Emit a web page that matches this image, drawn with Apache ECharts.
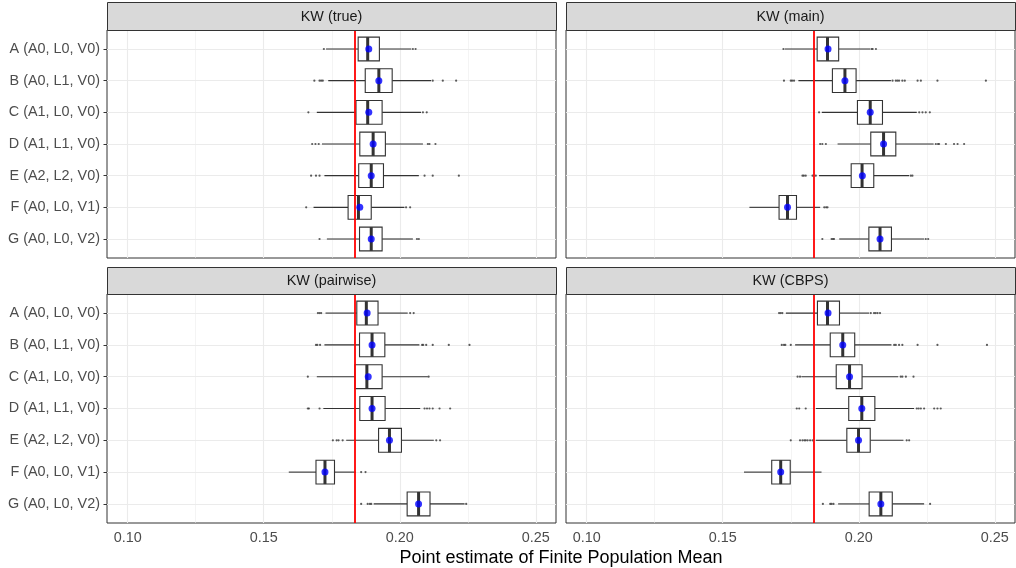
<!DOCTYPE html>
<html><head><meta charset="utf-8">
<script src="https://cdn.jsdelivr.net/npm/echarts@6/dist/echarts.min.js"></script>
<style>html,body{margin:0;padding:0;background:#fff}#c{width:1016px;height:568px}</style>
</head><body><div id="c"></div>
<script>
const categories = ['A (A0, L0, V0)', 'B (A0, L1, V0)', 'C (A1, L0, V0)', 'D (A1, L1, V0)', 'E (A2, L2, V0)', 'F (A0, L0, V1)', 'G (A0, L0, V2)'];
const panelTitles = ['KW (true)', 'KW (main)', 'KW (pairwise)', 'KW (CBPS)'];
const xTicks = [0.10, 0.15, 0.20, 0.25];
const xMinorTicks = [0.125, 0.175, 0.225];
const truthValue = 0.1836;
const xTitle = 'Point estimate of Finite Population Mean';

// [lower whisker, Q1, median, Q3, upper whisker]
const trueBox = [
 [0.1729, 0.1847, 0.1882, 0.1925, 0.2042],
 [0.1737, 0.1873, 0.1923, 0.1972, 0.2115],
 [0.1695, 0.1839, 0.1882, 0.1935, 0.2078],
 [0.1714, 0.1853, 0.1902, 0.1947, 0.2085],
 [0.1723, 0.1849, 0.1895, 0.1940, 0.2070],
 [0.1683, 0.1810, 0.1848, 0.1895, 0.2017],
 [0.1732, 0.1852, 0.1895, 0.1935, 0.2048]
];
const trueMean = [0.1886, 0.1923, 0.1886, 0.1902, 0.1895, 0.1853, 0.1895];
const trueOutliers = [
 [0.1721, 0.2048, 0.2058],
 [0.1686, 0.1705, 0.1711, 0.1717, 0.2121, 0.2158, 0.2207],
 [0.1664, 0.2085, 0.2099],
 [0.1678, 0.1690, 0.1702, 0.2103, 0.2109, 0.2131],
 [0.1674, 0.1692, 0.1705, 0.2091, 0.2121, 0.2217],
 [0.1656, 0.2023, 0.2038],
 [0.1705, 0.2063, 0.2070]
];

const mainBox = [
 [0.1728, 0.1847, 0.1885, 0.1926, 0.2042],
 [0.1778, 0.1903, 0.1949, 0.1990, 0.2118],
 [0.1864, 0.1995, 0.2042, 0.2087, 0.2213],
 [0.1922, 0.2044, 0.2091, 0.2136, 0.2275],
 [0.1854, 0.1972, 0.2012, 0.2055, 0.2185],
 [0.1598, 0.1707, 0.1738, 0.1771, 0.1858],
 [0.1928, 0.2037, 0.2078, 0.2120, 0.2240]
];
const mainMean = [0.1887, 0.1949, 0.2042, 0.2091, 0.2013, 0.1738, 0.2078];
const mainOutliers = [
 [0.1723, 0.2047, 0.2051, 0.2063],
 [0.1725, 0.1750, 0.1755, 0.1762, 0.2124, 0.2136, 0.2142, 0.2148, 0.2160, 0.2169, 0.2216, 0.2228, 0.2289, 0.2467],
 [0.1854, 0.2222, 0.2234, 0.2246, 0.2261],
 [0.1858, 0.1866, 0.1879, 0.2283, 0.2291, 0.2295, 0.2320, 0.2350, 0.2363, 0.2387],
 [0.1793, 0.1798, 0.1805, 0.1830, 0.1842, 0.2191, 0.2197],
 [0.1873, 0.1880, 0.1885],
 [0.1866, 0.1900, 0.1905, 0.1909, 0.2246, 0.2255]
];

const pairBox = [
 [0.1727, 0.1842, 0.1877, 0.1920, 0.2029],
 [0.1723, 0.1852, 0.1898, 0.1945, 0.2072],
 [0.1695, 0.1835, 0.1879, 0.1935, 0.2103],
 [0.1719, 0.1853, 0.1898, 0.1946, 0.2075],
 [0.1803, 0.1922, 0.1962, 0.2006, 0.2125],
 [0.1592, 0.1692, 0.1725, 0.1760, 0.1839],
 [0.1904, 0.2027, 0.2069, 0.2111, 0.2238]
];
const pairMean = [0.1880, 0.1898, 0.1884, 0.1898, 0.1962, 0.1725, 0.2069];
const pairOutliers = [
 [0.1699, 0.1705, 0.1711, 0.2038, 0.2051],
 [0.1692, 0.1697, 0.1707, 0.2082, 0.2086, 0.2097, 0.2121, 0.2180, 0.2256],
 [0.1662, 0.2106],
 [0.1662, 0.1666, 0.1705, 0.2091, 0.2100, 0.2109, 0.2121, 0.2146, 0.2185],
 [0.1754, 0.1768, 0.1775, 0.1790, 0.2134, 0.2148],
 [0.1858, 0.1874],
 [0.1858, 0.1882, 0.1890, 0.1895, 0.2244]
];

const cbpsBox = [
 [0.1732, 0.1848, 0.1885, 0.1929, 0.2038],
 [0.1766, 0.1895, 0.1941, 0.1985, 0.2120],
 [0.1789, 0.1917, 0.1966, 0.2012, 0.2145],
 [0.1842, 0.1963, 0.2011, 0.2059, 0.2203],
 [0.1842, 0.1956, 0.1999, 0.2042, 0.2164],
 [0.1578, 0.1680, 0.1713, 0.1748, 0.1863],
 [0.1924, 0.2038, 0.2081, 0.2123, 0.2240]
];
const cbpsMean = [0.1887, 0.1941, 0.1966, 0.2011, 0.1999, 0.1713, 0.2081];
const cbpsOutliers = [
 [0.1707, 0.1713, 0.1719, 0.2044, 0.2056, 0.2062, 0.2069, 0.2078],
 [0.1717, 0.1725, 0.1730, 0.1750, 0.2130, 0.2136, 0.2148, 0.2160, 0.2216, 0.2289, 0.2471],
 [0.1775, 0.1784, 0.2154, 0.2160, 0.2173, 0.2201],
 [0.1772, 0.1781, 0.1805, 0.2213, 0.2220, 0.2228, 0.2240, 0.2277, 0.2289, 0.2301],
 [0.1750, 0.1784, 0.1793, 0.1800, 0.1805, 0.1812, 0.1821, 0.1830, 0.2176, 0.2185],
 [],
 [0.1868, 0.1895, 0.1900, 0.1907, 0.2262]
];

const panelBoxes = [trueBox, mainBox, pairBox, cbpsBox];
const panelMeans = [trueMean, mainMean, pairMean, cbpsMean];
const panelOutliers = [trueOutliers, mainOutliers, pairOutliers, cbpsOutliers];

const FONT = 'Liberation Sans, Arial, sans-serif';
const gridRects = [
  {left: 107, top: 30, width: 449, height: 228},
  {left: 566, top: 30, width: 449, height: 228},
  {left: 107, top: 294, width: 449, height: 229},
  {left: 566, top: 294, width: 449, height: 229}
];
const stripTops = [2, 2, 267, 267];

const chart = echarts.init(document.getElementById('c'), null, {renderer: 'canvas'});

function renderBox(params, api) {
  const y = api.value(0);
  const lo = api.coord([api.value(1), y]);
  const q1 = api.coord([api.value(2), y]);
  const md = api.coord([api.value(3), y]);
  const q3 = api.coord([api.value(4), y]);
  const hi = api.coord([api.value(5), y]);
  const h = api.size([0, 0.75])[1];
  const cy = lo[1];
  const st = {stroke: '#333333', lineWidth: 1.1};
  return {type: 'group', children: [
    {type: 'line', shape: {x1: lo[0], y1: cy, x2: q1[0], y2: cy}, style: st},
    {type: 'line', shape: {x1: q3[0], y1: cy, x2: hi[0], y2: cy}, style: st},
    {type: 'rect', shape: {x: q1[0], y: cy - h / 2, width: q3[0] - q1[0], height: h}, style: {fill: '#ffffff', stroke: '#333333', lineWidth: 1.1}},
    {type: 'line', shape: {x1: md[0], y1: cy - h / 2, x2: md[0], y2: cy + h / 2}, style: {stroke: '#333333', lineWidth: 3}}
  ]};
}

const grid = [], xAxis = [], yAxis = [], series = [], graphic = [];
const catIdx = categories.map((c, i) => i);

for (let p = 0; p < 4; p++) {
  const g = gridRects[p];
  grid.push(Object.assign({show: true, backgroundColor: '#ffffff', borderColor: '#333333', borderWidth: 1, containLabel: false}, g));
  const bottomRow = p >= 2;
  const leftCol = p % 2 === 0;
  xAxis.push({
    type: 'value', gridIndex: p, min: 0.0924, max: 0.2574,
    axisLine: {show: false}, splitLine: {show: false},
    axisTick: {show: bottomRow, customValues: xTicks, length: 3.5, lineStyle: {color: '#333333'}},
    axisLabel: {show: bottomRow, customValues: xTicks, margin: 8, color: '#4d4d4d', fontSize: 14.4, fontFamily: FONT,
      formatter: v => Number(v).toFixed(2)}
  });
  yAxis.push({
    type: 'value', gridIndex: p, min: -0.6, max: 6.6, inverse: true,
    axisLine: {show: false}, splitLine: {show: false},
    axisTick: {show: leftCol, customValues: catIdx, length: 3.5, lineStyle: {color: '#333333'}},
    axisLabel: {show: leftCol, customValues: catIdx, margin: 7, color: '#4d4d4d', fontSize: 14.4, fontFamily: FONT,
      formatter: v => categories[Math.round(v)] || ''}
  });

  const gridLines = [];
  xTicks.forEach(v => gridLines.push({xAxis: v, lineStyle: {color: '#ebebeb', width: 1.1, type: 'solid'}}));
  xMinorTicks.forEach(v => gridLines.push({xAxis: v, lineStyle: {color: '#ebebeb', width: 0.55, type: 'solid'}}));
  catIdx.forEach(v => gridLines.push({yAxis: v, lineStyle: {color: '#ebebeb', width: 1.1, type: 'solid'}}));

  const outData = [];
  panelOutliers[p].forEach((arr, i) => arr.forEach(v => outData.push([v, i])));

  series.push({
    type: 'scatter', xAxisIndex: p, yAxisIndex: p, z: 2, silent: true,
    data: outData, symbol: 'circle', symbolSize: 2.2, itemStyle: {color: '#333333'},
    markLine: {silent: true, z: 1, precision: 4, symbol: ['none', 'none'], label: {show: false}, animation: false, data: gridLines}
  });
  series.push({
    type: 'custom', xAxisIndex: p, yAxisIndex: p, z: 3, silent: true,
    renderItem: renderBox,
    encode: {x: [1, 2, 3, 4, 5], y: 0},
    data: panelBoxes[p].map((b, i) => [i].concat(b))
  });
  series.push({
    type: 'scatter', xAxisIndex: p, yAxisIndex: p, z: 6, silent: true,
    data: panelMeans[p].map((m, i) => [m, i]), symbol: 'circle', symbolSize: 7, itemStyle: {color: '#0000ff'},
    markLine: {silent: true, z: 4, precision: 4, symbol: ['none', 'none'], label: {show: false}, animation: false,
      data: [{xAxis: truthValue, lineStyle: {color: '#ff0000', width: 1.8, type: 'solid'}}]}
  });

  graphic.push({type: 'rect', left: g.left, top: stripTops[p], z: 10,
    shape: {width: g.width, height: g.top - stripTops[p]},
    style: {fill: '#d9d9d9', stroke: '#333333', lineWidth: 1}});
  graphic.push({type: 'text', z: 11, x: g.left + g.width / 2, y: (stripTops[p] + g.top) / 2 + 1,
    style: {text: panelTitles[p], fill: '#1a1a1a', fontSize: 14.4, fontFamily: FONT, align: 'center', verticalAlign: 'middle'}});
}
graphic.push({type: 'text', x: 561, y: 558, z: 11,
  style: {text: xTitle, fill: '#000000', fontSize: 18, fontFamily: FONT, align: 'center', verticalAlign: 'middle'}});

chart.setOption({animation: false, backgroundColor: '#ffffff', grid, xAxis, yAxis, series, graphic});
</script></body></html>
